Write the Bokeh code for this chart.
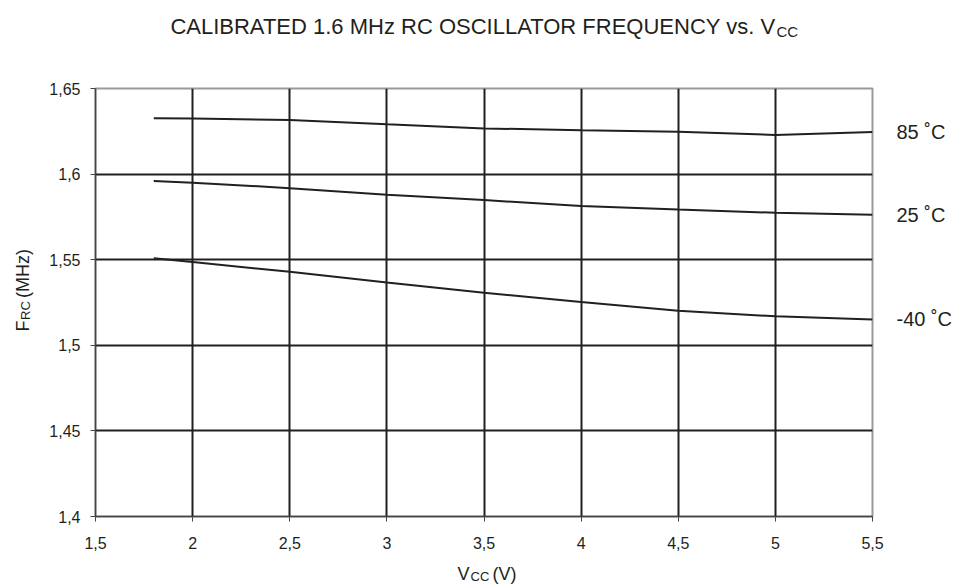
import math
from bokeh.plotting import figure
from bokeh.layouts import column, row
from bokeh.models import (FixedTicker, CustomJSTickFormatter, Label, Range1d,
                          LinearAxis)
from bokeh.embed import file_html
from bokeh.resources import INLINE

# ---- data ----
vcc = [1.8, 2.0, 2.5, 3.0, 3.5, 4.0, 4.5, 5.0, 5.5]
f_85 = [1.6326, 1.6325, 1.6316, 1.6291, 1.6267, 1.6256, 1.6248, 1.6229, 1.6246]
f_25 = [1.5960, 1.5950, 1.5918, 1.5879, 1.5848, 1.5814, 1.5793, 1.5774, 1.5762]
f_m40 = [1.5509, 1.5486, 1.5429, 1.5367, 1.5307, 1.5253, 1.5202, 1.5169, 1.5151]
series = [f_85, f_25, f_m40]
series_labels = ["85 ˚C", "25 ˚C", "-40 ˚C"]
x_ticks = [1.5, 2.0, 2.5, 3.0, 3.5, 4.0, 4.5, 5.0, 5.5]
y_ticks = [1.4, 1.45, 1.5, 1.55, 1.6, 1.65]
title_main = "CALIBRATED 1.6 MHz RC OSCILLATOR FREQUENCY vs. V"
title_sub = "CC"
x_label = ("V", "CC", "(V)")
y_label = ("F", "RC", "(MHz)")

X0, X1 = 1.5, 5.5
Y0, Y1 = 1.4, 1.65

INK = "#231f20"
FONT = "Liberation Sans"

# ---- layout geometry (pixels) ----
TOTAL_W = 955
TITLE_H = 60
YLAB_W = 40
XLAB_H = 27
FRAME_L, FRAME_T, FRAME_W, FRAME_H = 95, 88, 777, 428
MAIN_W = TOTAL_W - YLAB_W
MAIN_BL = FRAME_L - YLAB_W
MAIN_BT = FRAME_T - TITLE_H
MAIN_BB = 44
MAIN_H = MAIN_BT + FRAME_H + MAIN_BB


def text_fig(w, h):
    f = figure(width=w, height=h, output_backend="svg", toolbar_location=None,
               x_axis_type=None, y_axis_type=None, title=None,
               x_range=Range1d(0, 1), y_range=Range1d(0, 1),
               min_border=0, outline_line_color=None)
    f.border_fill_color = "white"
    f.background_fill_color = "white"
    return f


def lab(f, xp, yp, text, size, align="left", angle=0.0):
    f.add_layout(Label(x=xp, y=yp, x_units="canvas", y_units="canvas",
                       text=text, text_font=FONT, text_font_size=size,
                       text_color=INK, text_align=align,
                       text_baseline="alphabetic", angle=angle))


# ---- main chart ----
p = figure(width=MAIN_W, height=MAIN_H, output_backend="svg",
           toolbar_location=None, title=None,
           x_range=Range1d(X0, X1), y_range=Range1d(Y0, Y1),
           min_border_left=MAIN_BL, min_border_top=MAIN_BT,
           min_border_right=MAIN_W - MAIN_BL - FRAME_W,
           min_border_bottom=MAIN_BB,
           frame_width=FRAME_W, frame_height=FRAME_H)
p.outline_line_color = "#9a9a9a"
p.outline_line_width = 2
p.background_fill_color = "white"
p.border_fill_color = "white"

fmt = CustomJSTickFormatter(
    code="return String(Math.round(tick*100)/100).replace('.', ',');")

for ax, ticks in ((p.xaxis[0], x_ticks), (p.yaxis[0], y_ticks)):
    ax.ticker = FixedTicker(ticks=ticks)
    ax.formatter = fmt
    ax.minor_tick_line_color = None
    ax.major_tick_in = 0
    ax.major_tick_out = 5
    ax.major_tick_line_color = "#444444"
    ax.axis_line_color = "#444444"
    ax.axis_line_width = 1.5
    ax.major_label_text_font = FONT
    ax.major_label_text_font_size = "16px"
    ax.major_label_text_color = INK
p.xaxis.major_label_standoff = 15
p.yaxis.major_label_standoff = 10

p.xgrid.ticker = FixedTicker(ticks=x_ticks[1:-1])
p.ygrid.ticker = FixedTicker(ticks=y_ticks[1:-1])
for g in (p.xgrid, p.ygrid):
    g.grid_line_color = INK
    g.grid_line_width = 2

for ys in series:
    p.line(vcc, ys, line_color=INK, line_width=2)

# series names as tick labels of a right-hand axis placed at each curve's end
ends = [s[-1] for s in series]
right = LinearAxis(
    ticker=FixedTicker(ticks=ends),
    formatter=CustomJSTickFormatter(
        args=dict(vals=ends, labs=series_labels),
        code="""
        let k = 0, best = 1e9;
        for (let i = 0; i < vals.length; i++) {
            const d = Math.abs(vals[i] - tick);
            if (d < best) { best = d; k = i; }
        }
        return labs[k];
        """),
    axis_line_color=None, major_tick_line_color=None,
    minor_tick_line_color=None, major_tick_in=0, major_tick_out=0,
    major_label_standoff=24, major_label_text_font=FONT,
    major_label_text_font_size="20px", major_label_text_color=INK)
p.add_layout(right, "right")

# ---- title strip ----
t = text_fig(TOTAL_W, TITLE_H)
lab(t, 775, 26, title_main, "22px", align="right")
lab(t, 776, 31, title_sub, "15px")

# ---- y label strip (rotated) ----
yl = text_fig(YLAB_W, MAIN_H)
lab(yl, 22, 331 - TITLE_H, y_label[0], "18px", angle=math.pi / 2)
lab(yl, 25, 319.5 - TITLE_H, y_label[1], "13px", angle=math.pi / 2)
lab(yl, 22, 297.5 - TITLE_H, y_label[2], "18px", angle=math.pi / 2)

# ---- x label strip ----
xtop = TITLE_H + MAIN_H
xl = text_fig(TOTAL_W, XLAB_H)
lab(xl, 469, 573 - xtop, x_label[0], "18px", align="right")
lab(xl, 470, 576 - xtop, x_label[1], "13px")
lab(xl, 492, 573 - xtop, x_label[2], "18px")

layout = column(t, row(yl, p), xl)

open("out.html", "w").write(file_html(layout, INLINE))
